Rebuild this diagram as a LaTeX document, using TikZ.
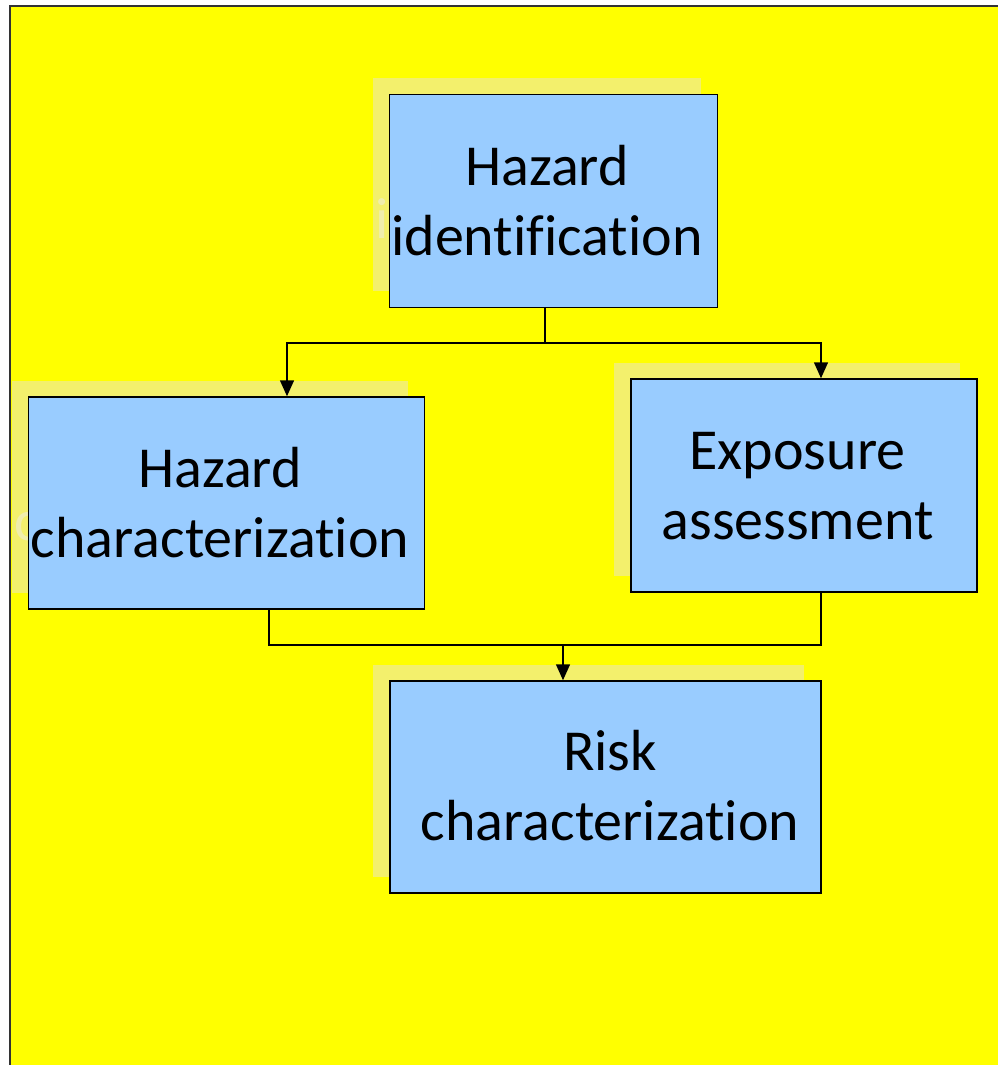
\documentclass[tikz,border=0pt]{standalone}
\usepackage{fontspec}
\setmainfont[Ligatures={NoCommon,NoRequired,NoContextual}]{Carlito}
\usetikzlibrary{arrows.meta}
\definecolor{panel}{RGB}{255,255,0}
\definecolor{shadefill}{RGB}{243,240,108}
\definecolor{shadetext}{RGB}{240,238,172}
\definecolor{boxfill}{RGB}{153,204,255}
\tikzset{
  stagebox/.style={draw=black, line width=1.5pt, fill=boxfill, inner sep=0pt},
  stageshade/.style={fill=shadefill, inner sep=0pt},
  stagetext/.style={inner sep=0pt, align=center, font=\fontsize{58}{70}\selectfont},
  shadetext/.style={stagetext, text=shadetext}
}
\tikzset{
  link/.style={line width=1.5pt, draw=black},
  arr/.style={link, -{Triangle[length=16pt,width=14pt]}}
}
\begin{document}
\begin{tikzpicture}[x=1pt, y=-1pt]
\useasboundingbox (0,0) rectangle (998,1065);
\fill[white] (0,0) rectangle (998,1065);
% yellow panel with its top and left border
\fill[panel] (10,6) rectangle (998,1065);
\draw[line width=1.5pt, black!80] (10,1065) -- (10,6) -- (998,6);

% drop shadows behind the stages, each carrying a faint copy of its label
\node[stageshade, minimum width=328pt, minimum height=213pt] (hid-sh) at (536.5,184.5) {};
\node[stageshade, minimum width=396pt, minimum height=212pt] (hc-sh) at (209.5,486.5) {};
\node[stageshade, minimum width=346pt, minimum height=213pt] (ea-sh) at (787,469) {};
\node[stageshade, minimum width=431pt, minimum height=212pt] (rc-sh) at (588.5,770.5) {};
\node[shadetext] (hid-sht) at (531,184) {Hazard\\identification};
\node[shadetext] (hc-sht) at (204,486) {Hazard\\characterization};
\node[shadetext] (ea-sht) at (781.5,469) {Exposure\\assessment};
\node[shadetext] (rc-sht) at (594,769) {Risk\\characterization};

% stages
\node[stagebox, minimum width=328pt, minimum height=213pt] (hid) at (553.5,201) {};
\node[stagebox, minimum width=396pt, minimum height=212pt] (hc) at (226.5,503) {};
\node[stagebox, minimum width=346pt, minimum height=213pt] (ea) at (804,485.5) {};
\node[stagebox, minimum width=431pt, minimum height=212pt] (rc) at (605.5,787) {};

% stage labels
\node[stagetext] (hid-t) at (547,201) {Hazard\\identification};
\node[stagetext] (hc-t) at (220,503) {Hazard\\characterization};
\node[stagetext] (ea-t) at (797.5,486) {Exposure\\assessment};
\node[stagetext] (rc-t) at (610,786) {Risk\\characterization};

% routing points
\coordinate (j1) at (545,343);
\coordinate (j2) at (563,645);
\coordinate (xl) at (287,0);
\coordinate (xr) at (821,0);
\coordinate (bl) at (269,0);

% split from hazard identification
\draw[link] (j1 |- hid.south) -- (j1);
\draw[arr] (j1) -| (xl |- hc.north);
\draw[arr] (j1) -| (xr |- ea.north);

% merge into risk characterization
\draw[link] (bl |- hc.south) |- (xr |- j2) -- (xr |- ea.south);
\draw[arr] (j2) -- (j2 |- rc.north);
\end{tikzpicture}
\end{document}
